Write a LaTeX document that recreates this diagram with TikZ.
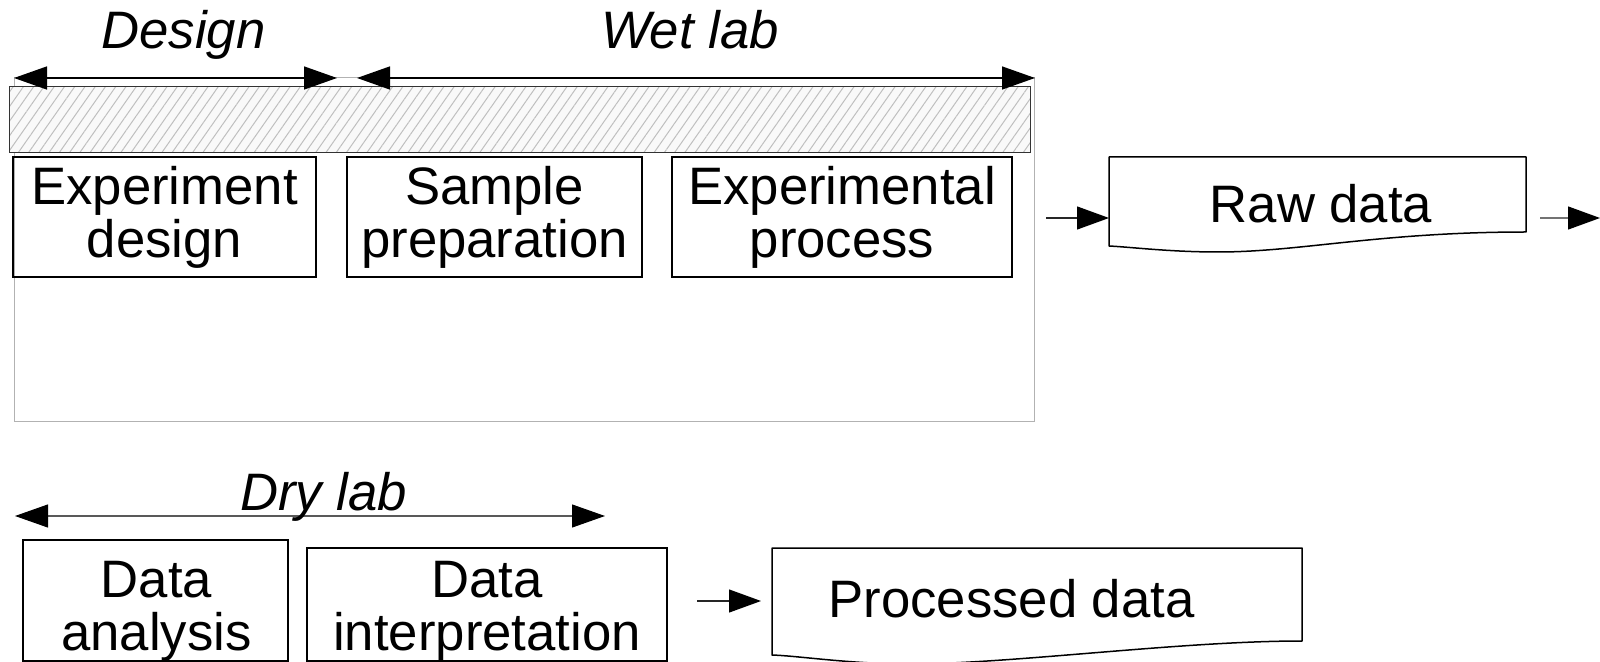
\documentclass[tikz,border=0pt]{standalone}
\usepackage{fontspec}
\setmainfont{Liberation Sans}
\usetikzlibrary{arrows.meta,patterns.meta}
\begin{document}
\begin{tikzpicture}[x=0.5pt, y=-0.5pt,
  every node/.style={font=\fontsize{26.35pt}{26.5pt}\selectfont},
  box/.style={draw=black, line width=0.65pt, inner sep=0pt, outer sep=0pt},
  txt/.style={inner sep=0pt, align=center},
  basetxt/.style={inner sep=0pt, anchor=base},
  phase/.style={inner sep=0pt, anchor=base, font=\fontsize{26.35pt}{26.5pt}\selectfont\itshape},
  spanarrow/.style={line width=0.7pt, {Triangle[length=16.5pt,width=11.5pt,color=black]}-{Triangle[length=16.5pt,width=11.5pt,color=black]}},
  feedarrow/.style={line width=0.6pt, -{Triangle[length=16pt,width=11.5pt,color=black]}},
  doc/.style={draw=black, line width=0.75pt, line join=round}
]
\useasboundingbox (0,0) rectangle (1600,662);

% wet-lab enclosure and hatched band
\node[draw=gray!60, line width=0.5pt, inner sep=0pt, minimum width=510pt, minimum height=171.5pt] (frame) at (524,249.5) {};
\node[draw=black!80, line width=0.5pt, inner sep=0pt, minimum width=510.5pt, minimum height=33pt,
      preaction={fill=gray!5}, pattern={Lines[angle=55,distance=4.2pt,line width=0.5pt]}, pattern color=gray!50] (band) at (519.5,120) {};

% phase spans
\coordinate (dsgL) at (14,78);  \coordinate (dsgR) at (337,78);
\coordinate (wetL) at (357,78); \coordinate (wetR) at (1035,78);
\coordinate (dryL) at (15,516); \coordinate (dryR) at (605,516);
\draw[spanarrow] (dsgL) -- (dsgR);
\draw[spanarrow] (wetL) -- (wetR);
\draw[spanarrow, draw=black!65, line width=0.55pt] (dryL) -- (dryR);
\node[phase] (design) at (183.5,49) {Design};
\node[phase] (wetlab) at (690,49) {Wet lab};
\node[phase] (drylab) at (323.5,510) {Dry lab};

% wet-lab steps
\node[box, txt, minimum width=151.5pt, minimum height=60pt] (expd) at (164.5,217) {Experiment\\design};
\node[box, txt, minimum width=147.5pt, minimum height=60pt] (samp) at (494.5,217) {Sample\\preparation};
\node[box, txt, minimum width=170pt, minimum height=60pt] (expp) at (842,217) {Experimental\\process};

% raw data document
\draw[doc] (1109,157) -- (1526,157) -- (1526,232)
  .. controls (1380,232) and (1300,252) .. (1218,252)
  .. controls (1170,252) and (1130,247) .. (1109,246) -- cycle;
\node[basetxt] (raw) at (1321,223) {Raw data};
\coordinate (rawsrc) at (1046,218); \coordinate (rawin) at (1109,218);
\coordinate (rawout) at (1540,218); \coordinate (rawnext) at (1600,218);
\draw[feedarrow, draw=black!85] (rawsrc) -- (rawin);
\draw[feedarrow, draw=black!55] (rawout) -- (rawnext);

% dry-lab steps
\node[box, minimum width=132.5pt, minimum height=60.5pt] (anal) at (155.5,600.5) {};
\node[txt] (analt) at (156.5,611) {Data\\analysis};
\node[box, minimum width=180pt, minimum height=56.5pt] (interp) at (487,604.5) {};
\node[txt] (interpt) at (487,611) {Data\\interpretation};

% processed data document
\draw[doc] (772,548) -- (1302,548) -- (1302,641)
  .. controls (1180,641) and (1010,664) .. (910,664)
  .. controls (850,664) and (800,656) .. (772,655) -- cycle;
\node[basetxt] (proc) at (1011.5,617) {Processed data};
\coordinate (procsrc) at (697,601); \coordinate (procin) at (761,601);
\draw[feedarrow, draw=black!85] (procsrc) -- (procin);
\end{tikzpicture}
\end{document}
